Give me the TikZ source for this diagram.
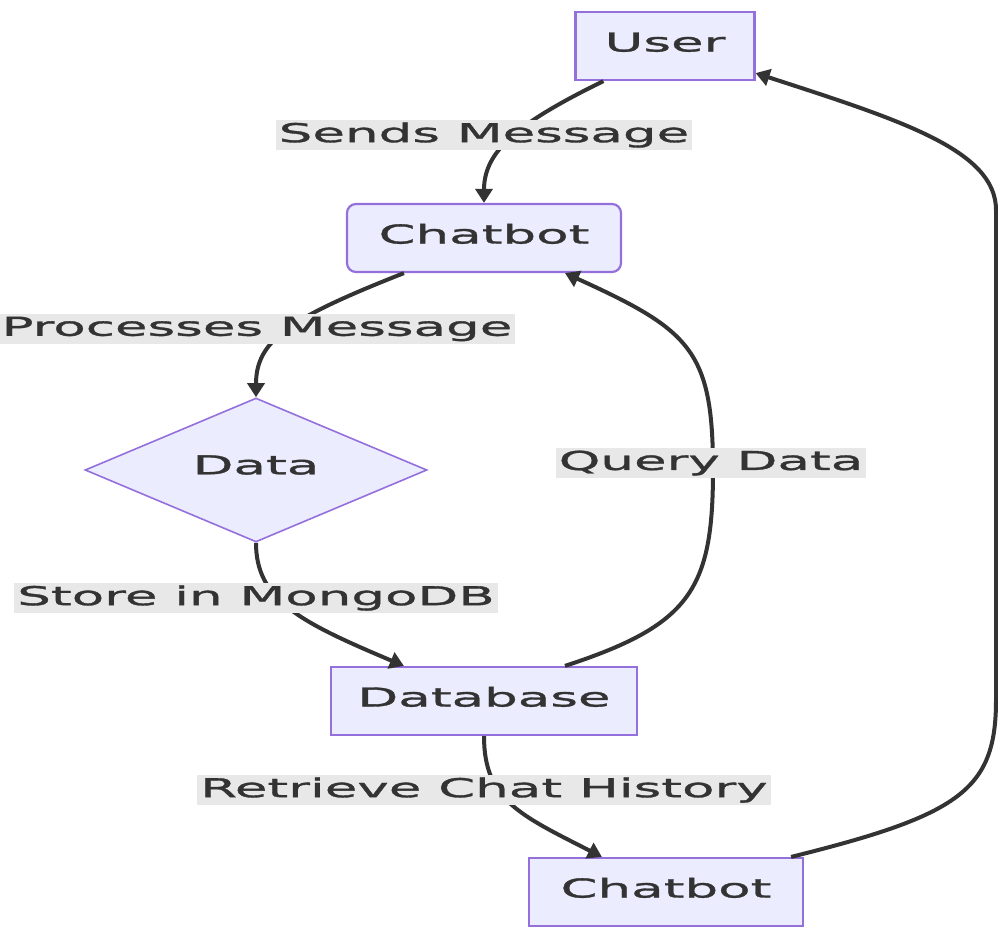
\documentclass[tikz,border=0pt]{standalone}
\usepackage{fontspec}
\setmainfont[FakeStretch=2.04, FakeBold=1.3]{DejaVu Sans}
\usetikzlibrary{shapes.geometric,arrows.meta,calc}
\definecolor{nodefill}{HTML}{ECECFF}
\definecolor{nodeline}{HTML}{9370DB}
\definecolor{ink}{HTML}{333333}
\definecolor{labelbg}{HTML}{E8E8E8}
\tikzset{
  box/.style={draw=nodeline, fill=nodefill, line width=2.2pt, text=ink,
    inner sep=0pt, minimum height=68pt, text height=19pt, text depth=8pt},
  roundbox/.style={box, rounded corners=9pt},
  decision/.style={diamond, draw=nodeline, fill=nodefill, line width=1.6pt,
    text=ink, inner sep=0pt, minimum width=342pt, minimum height=144pt},
  edge/.style={draw=ink, line width=4pt,
    -{Triangle[length=14pt,width=17pt]}},
  lbl/.style={fill=labelbg, text=ink, inner xsep=3pt, inner ysep=0pt,
    minimum height=30pt},
}
\begin{document}
\begin{tikzpicture}[x=1pt, y=-1pt, font=\fontsize{26}{31}\selectfont]
\useasboundingbox (0,0) rectangle (998,926);

% nodes
\node[box, minimum width=179pt] (user) at (665,46) {User};
\node[roundbox, minimum width=274pt] (chat1) at (484,238) {Chatbot};
\node[decision] (data) at (256,470) {};
\node[text=ink] (datatext) at (256,465) {Data};
\node[box, minimum width=306pt] (db) at (484,701) {Database};
\node[box, minimum width=274pt] (chat2) at (666,892) {Chatbot};

% connectors
\draw[edge] ($(user.south west)+(29,0)$)
  .. controls (520,122) and (484,150) .. (chat1.north);
\draw[edge] ($(chat1.south west)+(58,0)$)
  .. controls (290,318) and (256,340) .. (data.north);
\draw[edge] (data.south)
  .. controls (256,600) and (300,622) .. ($(db.north west)+(74,0)$);
\draw[edge] ($(db.north)+(81,0)$)
  .. controls (690,625) and (713,590) .. (713,470)
  .. controls (713,350) and (690,330) .. ($(chat1.south)+(81,0)$);
\draw[edge] (db.south)
  .. controls (484,800) and (520,815) .. ($(chat2.north west)+(74,0)$);
\draw[edge] ($(chat2.north east)+(-13,0)$)
  .. controls (960,815) and (996,790) .. (996,700)
  -- (996,210)
  .. controls (996,150) and (900,120) .. ($(user.south east)+(0,-8)$);

% connector labels
\node[lbl] (l1) at (484,135) {Sends Message};
\node[lbl] (l2) at (257,329) {Processes Message};
\node[lbl] (l3) at (256,598) {Store in MongoDB};
\node[lbl] (l4) at (711,463) {Query Data};
\node[lbl] (l5) at (484,790) {Retrieve Chat History};
\end{tikzpicture}
\end{document}
